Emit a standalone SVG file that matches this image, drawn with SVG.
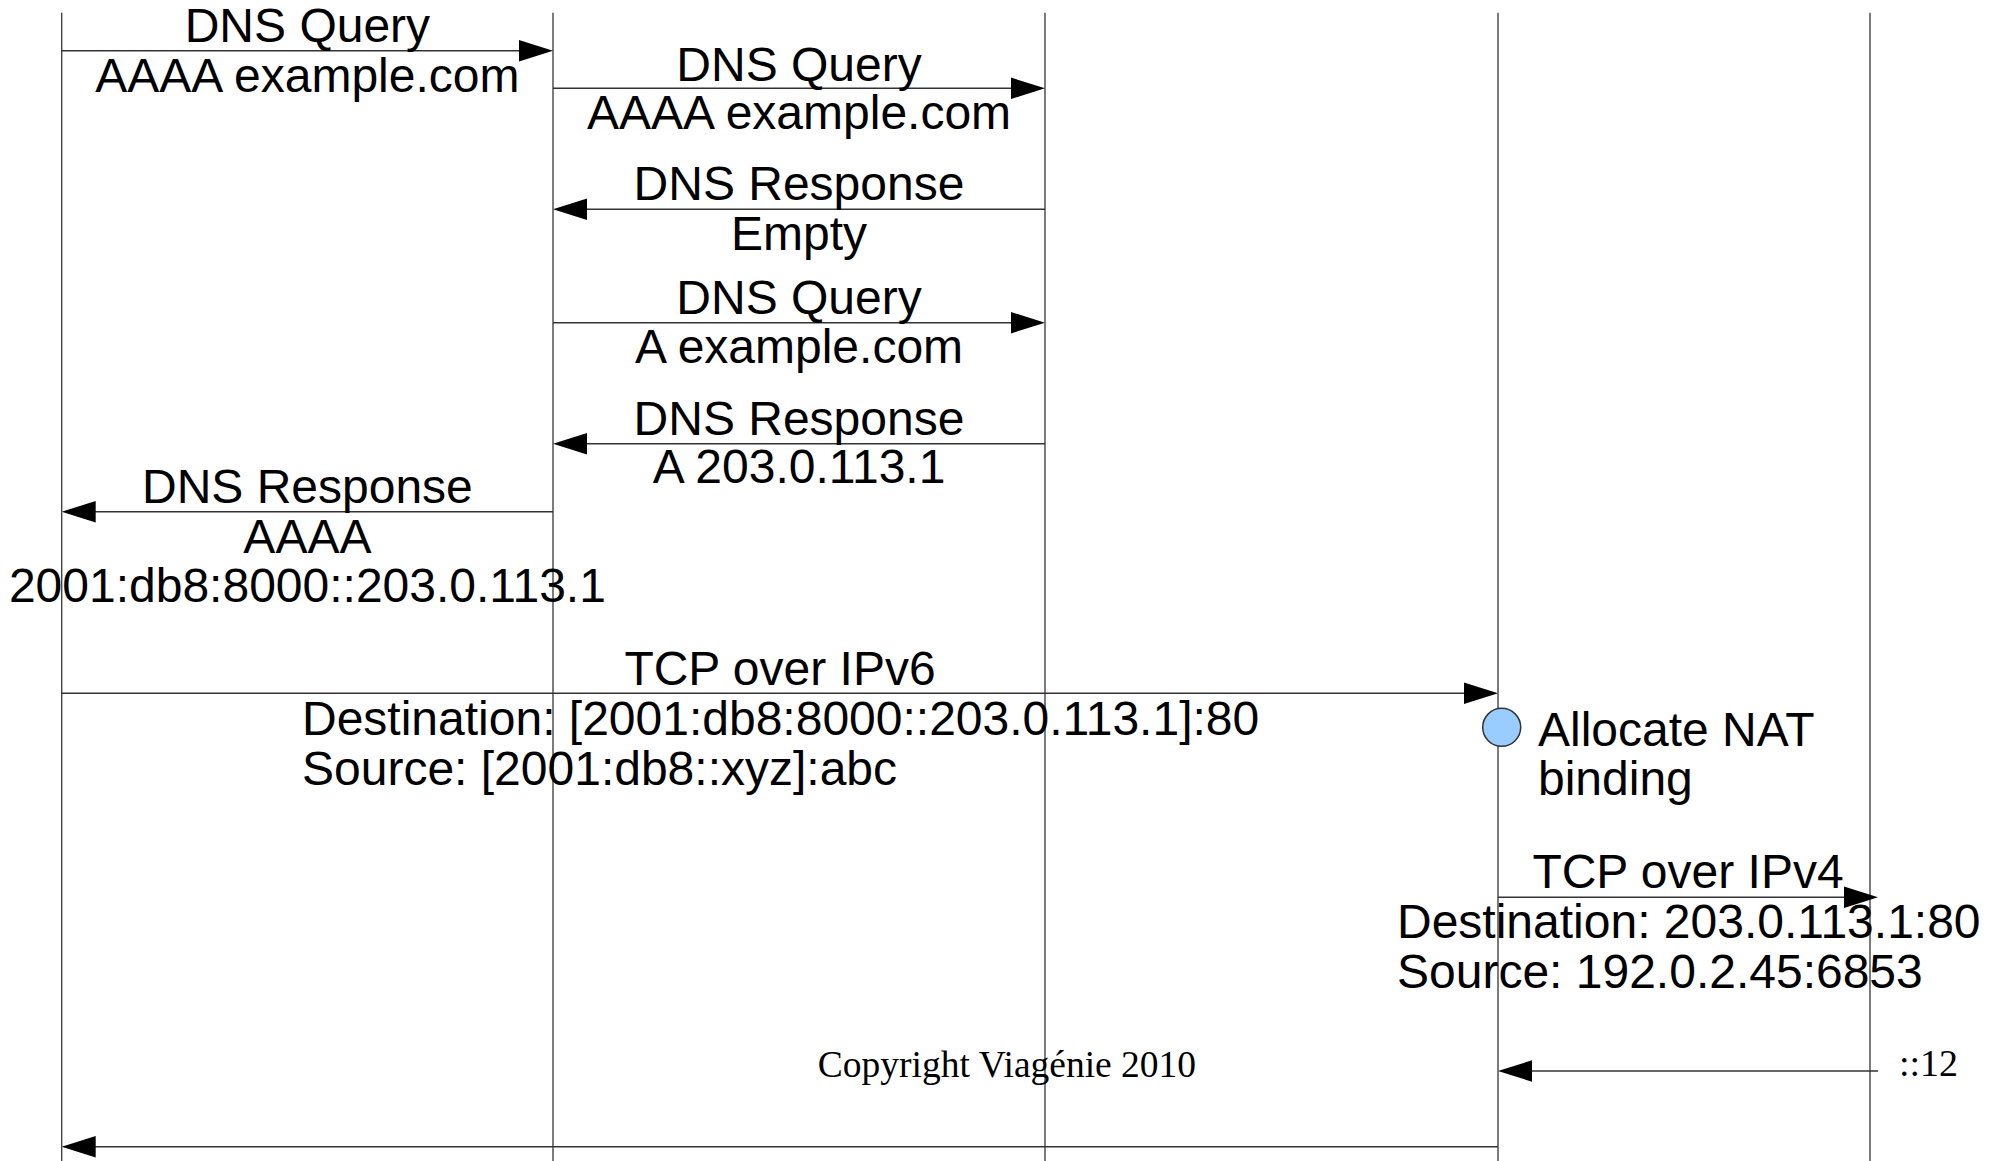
<svg xmlns="http://www.w3.org/2000/svg" width="2013" height="1161" viewBox="0 0 2013 1161">
<style>
  .life { stroke: #444; stroke-width: 1.4; fill: none; }
  .msg { stroke: #333; stroke-width: 1.6; fill: none; }
  .head { fill: #000; }
  .lbl { font-family: "Liberation Sans", Arial, sans-serif; font-size: 48px; fill: #000; }
  .c { text-anchor: middle; }
  .s { text-anchor: start; }
  .ser { font-family: "Liberation Serif", "Times New Roman", serif; fill: #000; }
</style>
<rect width="2013" height="1161" fill="#fff"/>
<g id="lifelines">
  <line id="lifeline1" class="life" x1="61.7" y1="12.7" x2="61.7" y2="1161"/>
  <line id="lifeline2" class="life" x1="553" y1="12.7" x2="553" y2="1161"/>
  <line id="lifeline3" class="life" x1="1045" y1="12.7" x2="1045" y2="1161"/>
  <line id="lifeline4" class="life" x1="1498" y1="12.7" x2="1498" y2="1161"/>
  <line id="lifeline5" class="life" x1="1870" y1="12.7" x2="1870" y2="1161"/>
</g>
<g id="connectors">
  <line class="msg" x1="61.7" y1="50.7" x2="525" y2="50.7"/>
  <polygon class="head" points="553,50.7 519,40 519,61.4"/>
  <line class="msg" x1="553" y1="88.3" x2="1017" y2="88.3"/>
  <polygon class="head" points="1045,88.3 1011,77.6 1011,99"/>
  <line class="msg" x1="1045" y1="209.3" x2="581" y2="209.3"/>
  <polygon class="head" points="553,209.3 587,198.6 587,220"/>
  <line class="msg" x1="553" y1="322.7" x2="1017" y2="322.7"/>
  <polygon class="head" points="1045,322.7 1011,312 1011,333.4"/>
  <line class="msg" x1="1045" y1="443.7" x2="581" y2="443.7"/>
  <polygon class="head" points="553,443.7 587,433 587,454.4"/>
  <line class="msg" x1="553" y1="511.7" x2="90" y2="511.7"/>
  <polygon class="head" points="61.7,511.7 95.7,501 95.7,522.4"/>
  <line class="msg" x1="61.7" y1="693.3" x2="1470" y2="693.3"/>
  <polygon class="head" points="1498,693.3 1464,682.6 1464,704"/>
  <line class="msg" x1="1498" y1="897.3" x2="1850" y2="897.3"/>
  <polygon class="head" points="1878,897.3 1844,886.6 1844,908"/>
  <line class="msg" x1="1878" y1="1071" x2="1526" y2="1071"/>
  <polygon class="head" points="1498,1071 1532,1060.3 1532,1081.7"/>
  <line class="msg" x1="1498" y1="1146.7" x2="90" y2="1146.7"/>
  <polygon class="head" points="61.7,1146.7 95.7,1136 95.7,1157.4"/>
</g>
<g id="msg1-label">
  <text class="lbl c" x="307.4" y="41.7">DNS Query</text>
  <text class="lbl c" x="307.4" y="91.7">AAAA example.com</text>
</g>
<g id="msg2-label">
  <text class="lbl c" x="799" y="81">DNS Query</text>
  <text class="lbl c" x="799" y="129.3">AAAA example.com</text>
</g>
<g id="msg3-label">
  <text class="lbl c" x="799" y="200">DNS Response</text>
  <text class="lbl c" x="799" y="250">Empty</text>
</g>
<g id="msg4-label">
  <text class="lbl c" x="799" y="314.3">DNS Query</text>
  <text class="lbl c" x="799" y="363.3">A example.com</text>
</g>
<g id="msg5-label">
  <text class="lbl c" x="799" y="435">DNS Response</text>
  <text class="lbl c" x="799" y="483.3">A 203.0.113.1</text>
</g>
<g id="msg6-label">
  <text class="lbl c" x="307.4" y="503.3">DNS Response</text>
  <text class="lbl c" x="307.4" y="552.7">AAAA</text>
  <text class="lbl c" x="307.4" y="601.7">2001:db8:8000::203.0.113.1</text>
</g>
<g id="msg7-label">
  <text class="lbl c" x="780" y="685">TCP over IPv6</text>
  <text class="lbl s" x="302" y="735">Destination: [2001:db8:8000::203.0.113.1]:80</text>
  <text class="lbl s" x="302" y="785">Source: [2001:db8::xyz]:abc</text>
</g>
<g id="nat-binding">
  <circle cx="1501.7" cy="727.3" r="19" fill="#99ccff" stroke="#333" stroke-width="1.5"/>
  <text class="lbl s" x="1538" y="745.7">Allocate NAT</text>
  <text class="lbl s" x="1538" y="795">binding</text>
</g>
<g id="msg8-label">
  <text class="lbl c" x="1688" y="888.3">TCP over IPv4</text>
  <text class="lbl s" x="1397" y="938.3">Destination: 203.0.113.1:80</text>
  <text class="lbl s" x="1397" y="988.3">Source: 192.0.2.45:6853</text>
</g>
<g id="msg9-label">
  <text class="ser" x="1899" y="1076" font-size="38">::12</text>
</g>
<g id="copyright">
  <text class="ser" x="1007" y="1076.7" font-size="37.5" text-anchor="middle">Copyright Viagénie 2010</text>
</g>
</svg>
